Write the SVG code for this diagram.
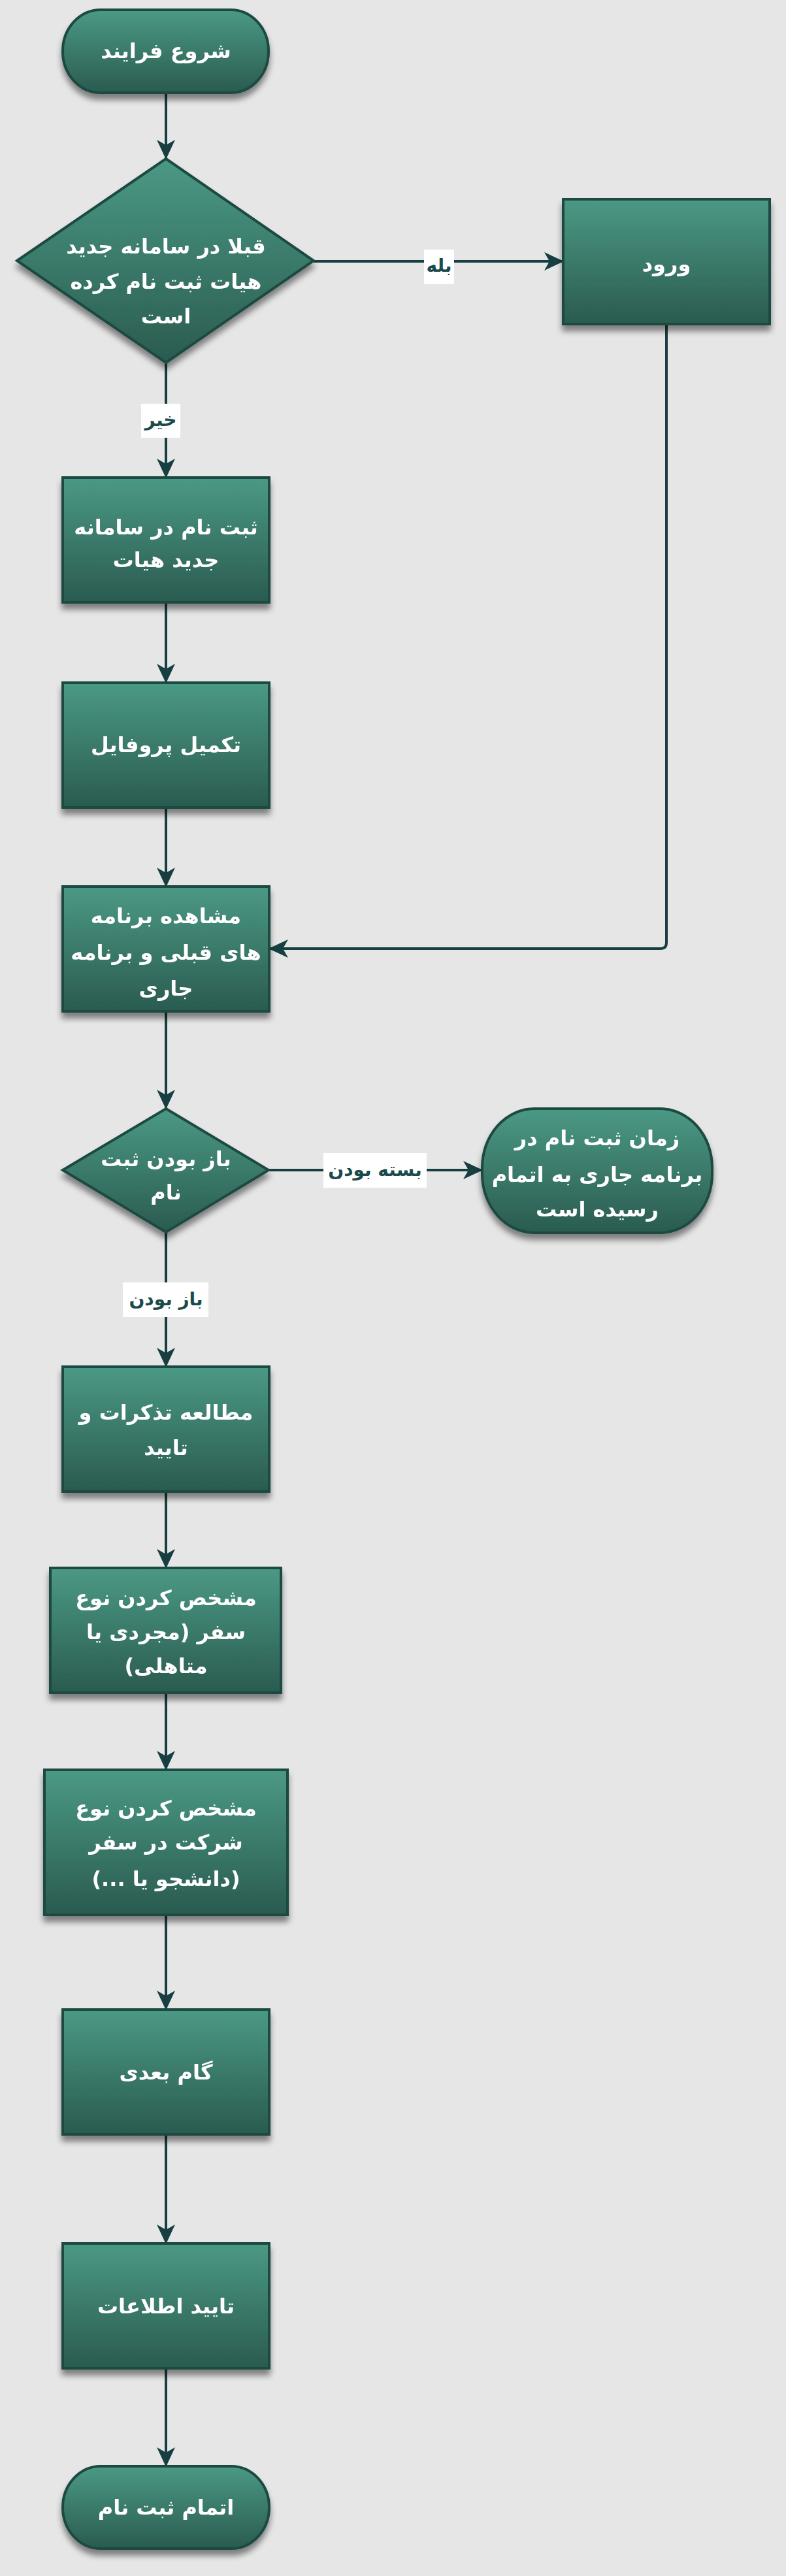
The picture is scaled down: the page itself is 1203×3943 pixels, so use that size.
<svg xmlns="http://www.w3.org/2000/svg" width="1203" height="3943" viewBox="0 0 1203 3943">
<style>
.node{stroke:#1e4a42;stroke-width:4;fill:url(#g)}
.t{font-family:"DejaVu Sans",sans-serif;font-weight:bold;font-size:32px;fill:#ffffff;text-anchor:middle;dominant-baseline:central;direction:rtl;unicode-bidi:embed}
.c{fill:none;stroke:#173f42;stroke-width:4}
.lb{fill:#ffffff}
.lt{font-family:"DejaVu Sans",sans-serif;font-weight:bold;font-size:28px;fill:#1a4a4a;text-anchor:middle;dominant-baseline:central;direction:rtl;unicode-bidi:embed}
</style>
<defs>
<linearGradient id="g" x1="0" y1="0" x2="0" y2="1">
<stop offset="0" stop-color="#4b9985"/>
<stop offset="1" stop-color="#2a5b4f"/>
</linearGradient>
<filter id="sh" x="-20%" y="-20%" width="140%" height="150%">
<feDropShadow dx="0" dy="9" stdDeviation="5" flood-color="#000" flood-opacity="0.45"/>
</filter>
<marker id="ar" viewBox="0 0 30 28" refX="29" refY="14" markerWidth="30" markerHeight="28" markerUnits="userSpaceOnUse" orient="auto">
<path d="M0,0 L30,14 L0,28 L8,14 z" fill="#173f42"/>
</marker>
</defs>
<rect width="1203" height="3943" fill="#e6e6e6"/>

<g id="connectors">
<path class="c" d="M254,142 L254,243" marker-end="url(#ar)"/>
<path class="c" d="M480,400 L862,400" marker-end="url(#ar)"/>
<path class="c" d="M254,555 L254,731" marker-end="url(#ar)"/>
<path class="c" d="M254,922 L254,1045" marker-end="url(#ar)"/>
<path class="c" d="M254,1236 L254,1357" marker-end="url(#ar)"/>
<path class="c" d="M1020,496 L1020,1443 Q1020,1452 1011,1452 L412,1452" marker-end="url(#ar)"/>
<path class="c" d="M254,1548 L254,1697" marker-end="url(#ar)"/>
<path class="c" d="M411,1791 L738,1791" marker-end="url(#ar)"/>
<path class="c" d="M254,1886 L254,2092" marker-end="url(#ar)"/>
<path class="c" d="M254,2283 L254,2400" marker-end="url(#ar)"/>
<path class="c" d="M254,2591 L254,2709" marker-end="url(#ar)"/>
<path class="c" d="M254,2931 L254,3076" marker-end="url(#ar)"/>
<path class="c" d="M254,3267 L254,3434" marker-end="url(#ar)"/>
<path class="c" d="M254,3625 L254,3775" marker-end="url(#ar)"/>
<g id="labels">
<rect class="lb" x="649" y="382" width="46" height="53"/>
<text class="lt" x="672" y="406">بله</text>
<rect class="lb" x="216" y="618" width="60" height="52"/>
<text class="lt" x="246" y="642">خیر</text>
<rect class="lb" x="495" y="1765" width="158" height="53"/>
<text class="lt" x="574" y="1790">بسته بودن</text>
<rect class="lb" x="188" y="1963" width="131" height="53"/>
<text class="lt" x="254" y="1988">باز بودن</text>
</g>
</g>

<g id="n-start" filter="url(#sh)">
<rect class="node" x="96" y="15" width="315" height="127" rx="58" ry="63"/>
<text class="t" x="254" y="78">شروع فرایند</text>
</g>

<g id="n-dec1" filter="url(#sh)">
<polygon class="node" points="254,243 480,399 254,555 26,399"/>
<text class="t" x="254" y="377">قبلا در سامانه جدید</text>
<text class="t" x="254" y="431">هیات ثبت نام کرده</text>
<text class="t" x="254" y="484">است</text>
</g>

<g id="n-login" filter="url(#sh)">
<rect class="node" x="862" y="305" width="316" height="191"/>
<text class="t" x="1020" y="404">ورود</text>
</g>

<g id="n-register" filter="url(#sh)">
<rect class="node" x="96" y="731" width="316" height="191"/>
<text class="t" x="254" y="807">ثبت نام در سامانه</text>
<text class="t" x="254" y="857">جدید هیات</text>
</g>

<g id="n-profile" filter="url(#sh)">
<rect class="node" x="96" y="1045" width="316" height="191"/>
<text class="t" x="254" y="1140">تکمیل پروفایل</text>
</g>

<g id="n-programs" filter="url(#sh)">
<rect class="node" x="96" y="1357" width="316" height="191"/>
<text class="t" x="254" y="1402">مشاهده برنامه</text>
<text class="t" x="254" y="1458">های قبلی و برنامه</text>
<text class="t" x="254" y="1513">جاری</text>
</g>

<g id="n-dec2" filter="url(#sh)">
<polygon class="node" points="254,1697 411,1791 254,1886 96,1791"/>
<text class="t" x="254" y="1774">باز بودن ثبت</text>
<text class="t" x="254" y="1825">نام</text>
</g>

<g id="n-closed" filter="url(#sh)">
<rect class="node" x="738" y="1697" width="352" height="190" rx="80" ry="90"/>
<text class="t" x="914" y="1742">زمان ثبت نام در</text>
<text class="t" x="914" y="1798">برنامه جاری به اتمام</text>
<text class="t" x="914" y="1851">رسیده است</text>
</g>

<g id="n-rules" filter="url(#sh)">
<rect class="node" x="96" y="2092" width="316" height="191"/>
<text class="t" x="254" y="2162">مطالعه تذکرات و</text>
<text class="t" x="254" y="2216">تایید</text>
</g>

<g id="n-triptype" filter="url(#sh)">
<rect class="node" x="77" y="2400" width="353" height="191"/>
<text class="t" x="254" y="2446">مشخص کردن نوع</text>
<text class="t" x="254" y="2498">سفر (مجردی یا</text>
<text class="t" x="254" y="2550">متاهلی)</text>
</g>

<g id="n-partype" filter="url(#sh)">
<rect class="node" x="68" y="2709" width="372" height="222"/>
<text class="t" x="254" y="2768">مشخص کردن نوع</text>
<text class="t" x="254" y="2820">شرکت در سفر</text>
<text class="t" x="254" y="2876">(دانشجو یا ...)</text>
</g>

<g id="n-next" filter="url(#sh)">
<rect class="node" x="96" y="3076" width="316" height="191"/>
<text class="t" x="254" y="3172">گام بعدی</text>
</g>

<g id="n-confirm" filter="url(#sh)">
<rect class="node" x="96" y="3434" width="316" height="191"/>
<text class="t" x="254" y="3530">تایید اطلاعات</text>
</g>

<g id="n-end" filter="url(#sh)">
<rect class="node" x="96" y="3775" width="316" height="126" rx="58" ry="63"/>
<text class="t" x="254" y="3838">اتمام ثبت نام</text>
</g>
</svg>
